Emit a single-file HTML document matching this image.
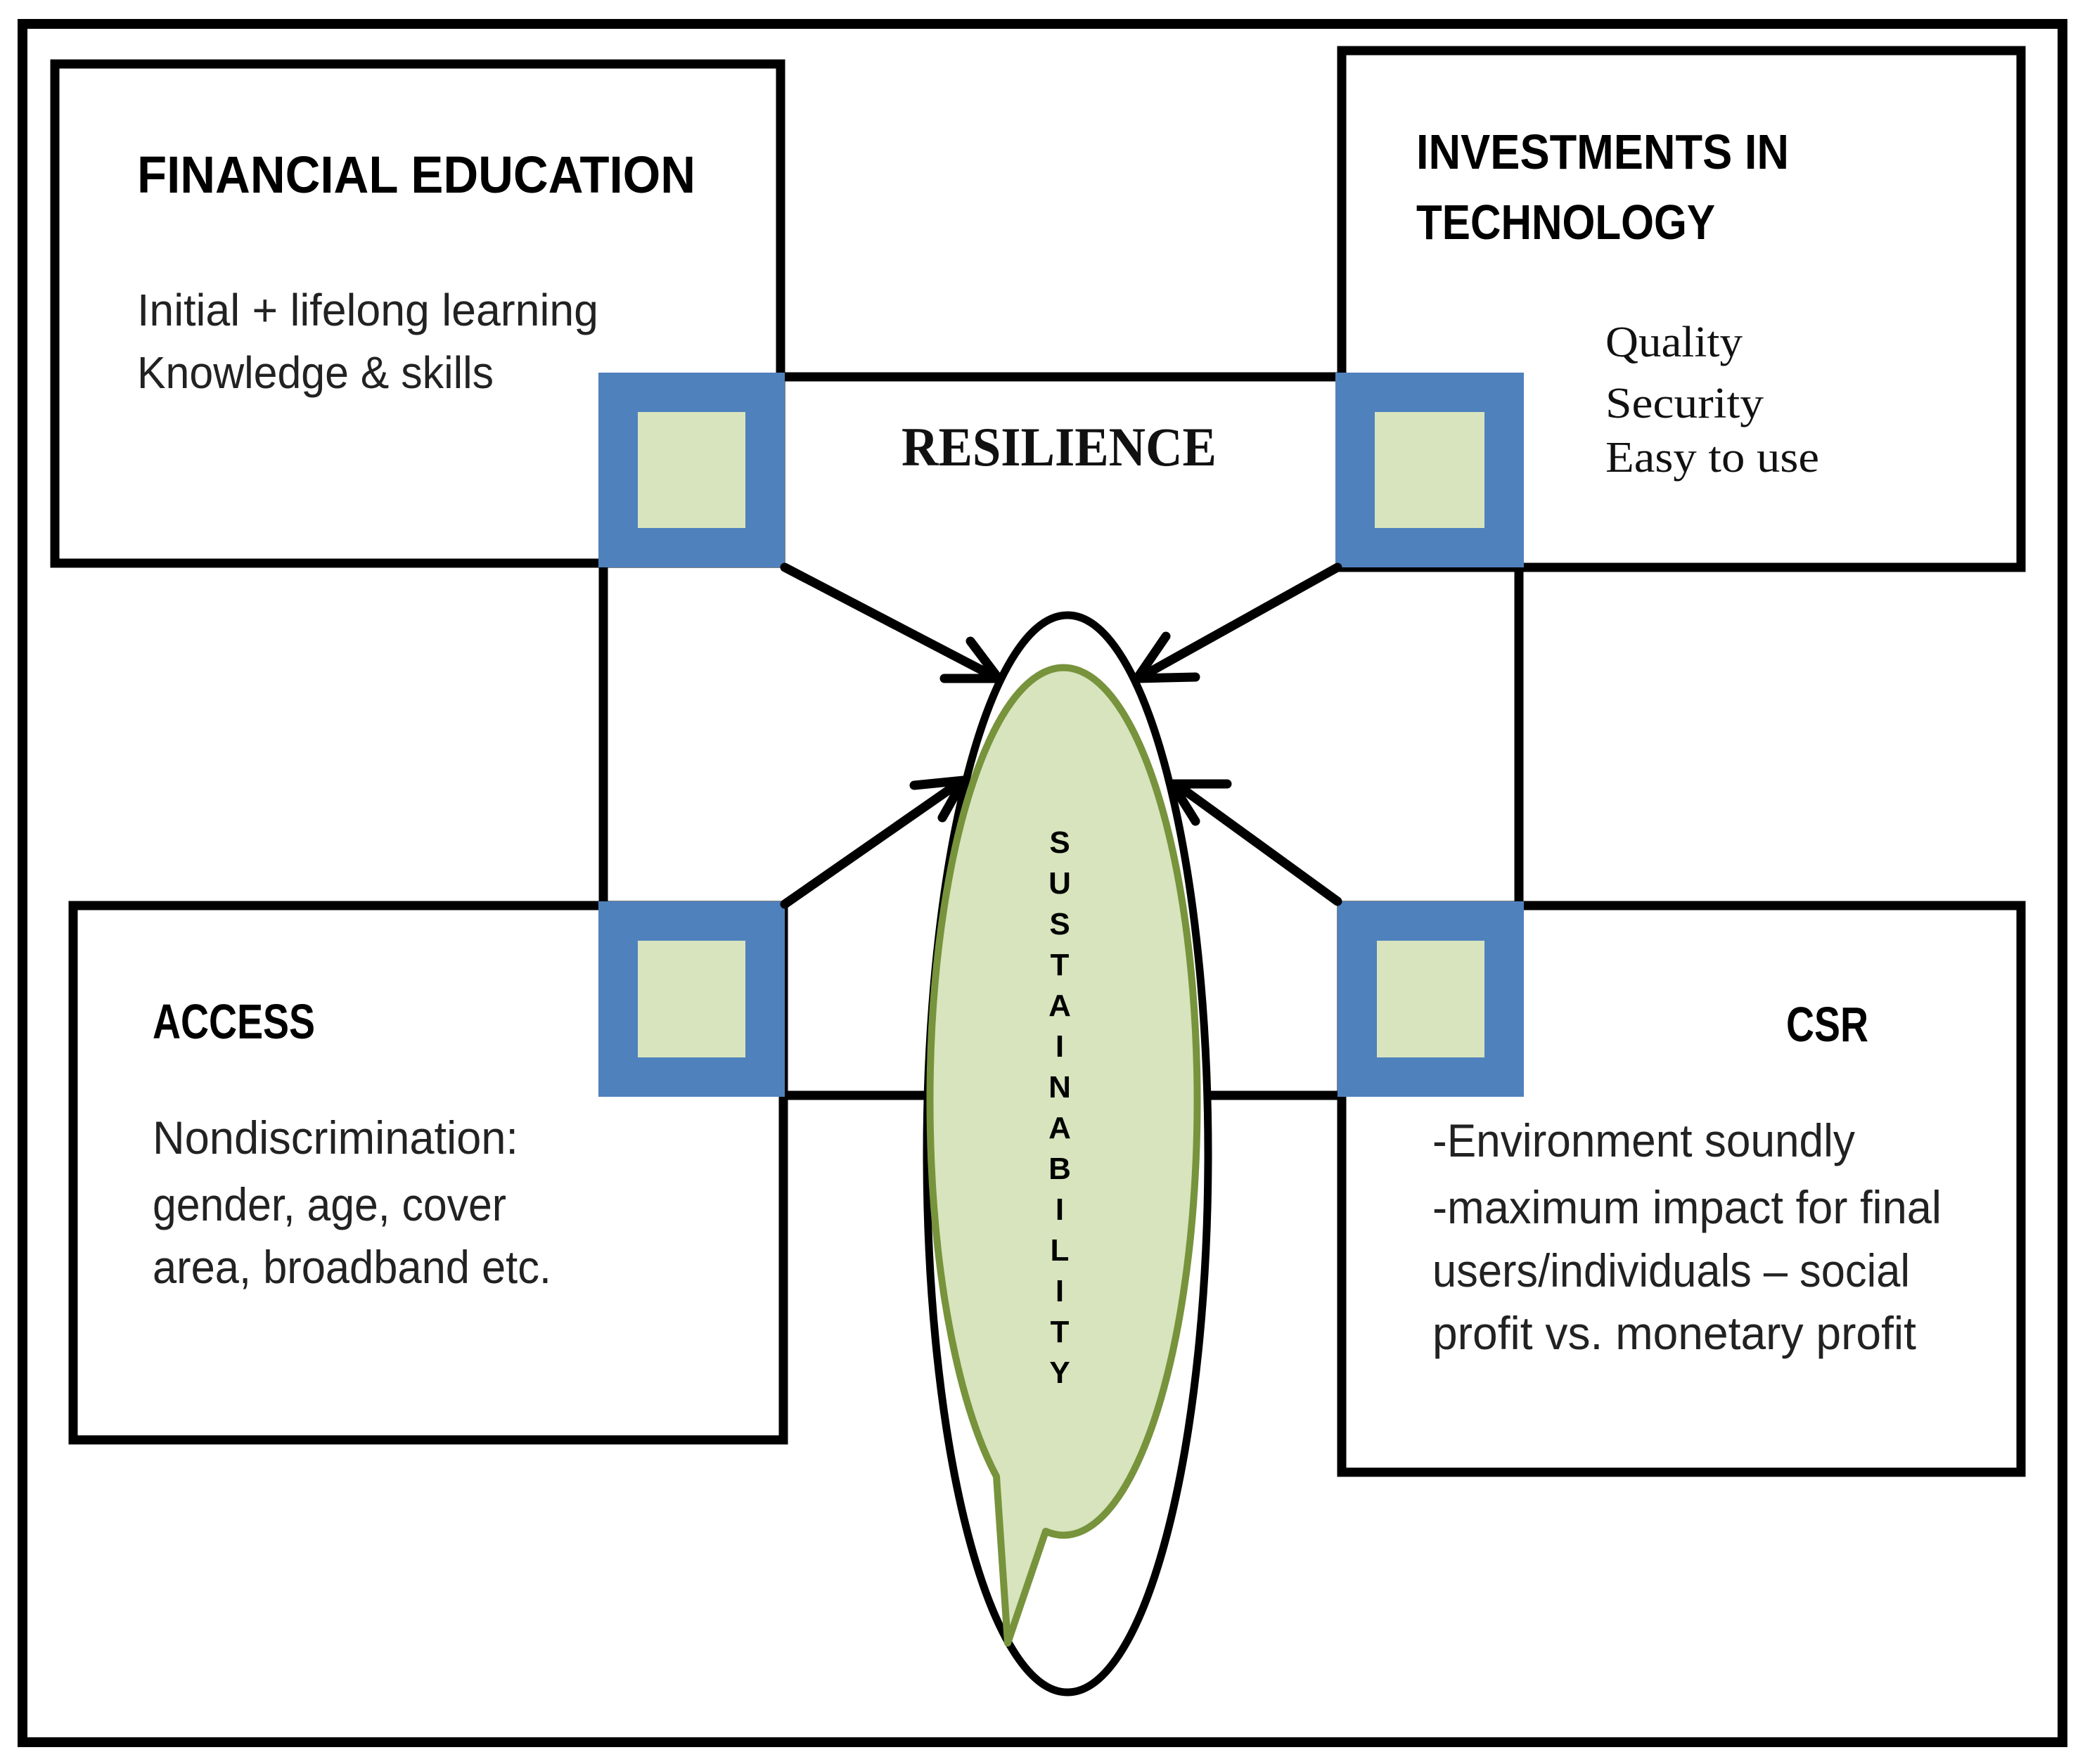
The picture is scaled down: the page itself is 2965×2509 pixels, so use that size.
<!DOCTYPE html>
<html><head><meta charset="utf-8"><style>html,body{margin:0;padding:0;background:#fff}svg{display:block}</style></head>
<body>
<svg width="2965" height="2509" viewBox="0 0 2965 2509" xmlns="http://www.w3.org/2000/svg">
<rect x="0" y="0" width="2965" height="2509" fill="#fff"/>
<rect x="32" y="34" width="2901" height="2444" fill="none" stroke="#000" stroke-width="14"/>
<g fill="none" stroke="#000" stroke-width="13">
<rect x="78" y="91" width="1032" height="710"/>
<rect x="1908" y="72" width="966" height="735"/>
<rect x="104" y="1288" width="1010" height="760"/>
<rect x="1908" y="1288" width="966" height="806"/>
<line x1="1116" y1="536" x2="1902" y2="536"/>
<line x1="858" y1="807" x2="858" y2="1282"/>
<line x1="2160" y1="807" x2="2160" y2="1282"/>
<line x1="1116" y1="1558" x2="1902" y2="1558"/>
</g>
<g fill="#d7e4bd" stroke="#4f81bd" stroke-width="56">
<rect x="879" y="558" width="209" height="221"/>
<rect x="1927" y="558" width="212" height="221"/>
<rect x="879" y="1310" width="209" height="222"/>
<rect x="1930" y="1310" width="209" height="222"/>
</g>
<g fill="none" stroke="#000" stroke-width="13" stroke-linecap="round" stroke-linejoin="round">
<line x1="1116" y1="807" x2="1415" y2="963"/>
<polyline points="1380,912 1420,965 1343,965"/>
<line x1="1902" y1="807" x2="1622" y2="963"/>
<polyline points="1658,905 1617,965 1700,963"/>
<line x1="1116" y1="1286" x2="1366" y2="1112"/>
<polyline points="1300,1117 1370,1110 1340,1163"/>
<line x1="1902" y1="1282" x2="1672" y2="1115"/>
<polyline points="1745,1115 1667,1115 1700,1168"/>
</g>
<ellipse cx="1518" cy="1641" rx="200" ry="766" fill="#fff" stroke="#000" stroke-width="11"/>
<path d="M 1417 2100 A 190 617 0 1 1 1487 2178 L 1433 2337 Z" fill="#d7e4bd" stroke="#77933c" stroke-width="10" stroke-linejoin="round"/>
<g font-family="Liberation Sans, sans-serif" font-weight="bold" font-size="44" text-anchor="middle" fill="#000">
<text x="1507" y="1213">S</text><text x="1507" y="1271">U</text><text x="1507" y="1329">S</text><text x="1507" y="1387">T</text><text x="1507" y="1445">A</text><text x="1507" y="1503">I</text><text x="1507" y="1561">N</text><text x="1507" y="1619">A</text><text x="1507" y="1677">B</text><text x="1507" y="1735">I</text><text x="1507" y="1793">L</text><text x="1507" y="1851">I</text><text x="1507" y="1909">T</text><text x="1507" y="1967">Y</text>
</g>
<g font-family="Liberation Sans, sans-serif" fill="#000">
<text x="195" y="274" font-size="74" font-weight="bold" textLength="794" lengthAdjust="spacingAndGlyphs">FINANCIAL EDUCATION</text>
<text x="195" y="463" font-size="64" fill="#222" textLength="656" lengthAdjust="spacingAndGlyphs">Initial + lifelong learning</text>
<text x="195" y="552" font-size="64" fill="#222" textLength="507" lengthAdjust="spacingAndGlyphs">Knowledge &amp; skills</text>
<text x="2014" y="240" font-size="70" font-weight="bold" textLength="530" lengthAdjust="spacingAndGlyphs">INVESTMENTS IN</text>
<text x="2014" y="340" font-size="70" font-weight="bold" textLength="425" lengthAdjust="spacingAndGlyphs">TECHNOLOGY</text>
<text x="217" y="1477" font-size="70" font-weight="bold" textLength="231" lengthAdjust="spacingAndGlyphs">ACCESS</text>
<text x="217" y="1641" font-size="66" fill="#222" textLength="520" lengthAdjust="spacingAndGlyphs">Nondiscrimination:</text>
<text x="217" y="1736" font-size="66" fill="#222" textLength="503" lengthAdjust="spacingAndGlyphs">gender, age, cover</text>
<text x="217" y="1825" font-size="66" fill="#222" textLength="567" lengthAdjust="spacingAndGlyphs">area, broadband etc.</text>
<text x="2540" y="1481" font-size="70" font-weight="bold" textLength="117" lengthAdjust="spacingAndGlyphs">CSR</text>
<text x="2037" y="1645" font-size="66" fill="#222" textLength="601" lengthAdjust="spacingAndGlyphs">-Environment soundly</text>
<text x="2037" y="1740" font-size="66" fill="#222" textLength="724" lengthAdjust="spacingAndGlyphs">-maximum impact for final</text>
<text x="2037" y="1830" font-size="66" fill="#222" textLength="679" lengthAdjust="spacingAndGlyphs">users/individuals – social</text>
<text x="2037" y="1919" font-size="66" fill="#222" textLength="688" lengthAdjust="spacingAndGlyphs">profit vs. monetary profit</text>
</g>
<g font-family="Liberation Serif, serif" fill="#111">
<text x="1282" y="662" font-size="78" font-weight="bold" textLength="448" lengthAdjust="spacingAndGlyphs">RESILIENCE</text>
<text x="2283" y="507" font-size="62" textLength="195" lengthAdjust="spacingAndGlyphs">Quality</text>
<text x="2283" y="594" font-size="62" textLength="225" lengthAdjust="spacingAndGlyphs">Security</text>
<text x="2283" y="671" font-size="62" textLength="304" lengthAdjust="spacingAndGlyphs">Easy to use</text>
</g>
</svg>
</body></html>
